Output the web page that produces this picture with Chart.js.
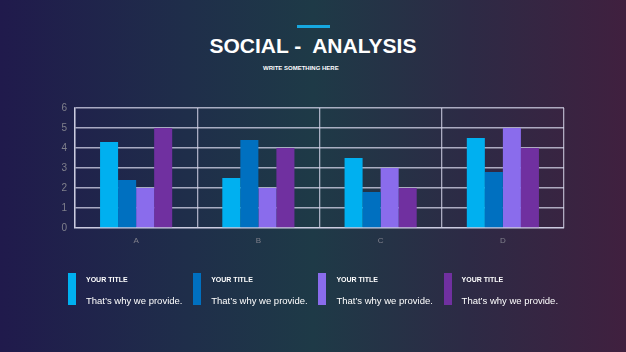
<!DOCTYPE html>
<html>
<head>
<meta charset="utf-8">
<script src="https://cdn.jsdelivr.net/npm/chart.js@4/dist/chart.umd.min.js"></script>
<style>
  html, body { margin: 0; padding: 0; }
  body {
    width: 626px; height: 352px; overflow: hidden; position: relative;
    font-family: "Liberation Sans", Arial, sans-serif;
    background: linear-gradient(90deg, #201a4c 0%, #1f2e4a 30%, #1e3a47 50%, #2d2a45 75%, #40203f 100%);
  }
  #chartWrap { position: absolute; left: 0; top: 0; width: 626px; height: 352px; }
  .accent { position: absolute; left: 297px; top: 25px; width: 33px; height: 3px; background: #16a8e0; }
  .title { position: absolute; left: 0; width: 626px; top: 34px; text-align: center; color: #fff;
    font-weight: bold; font-size: 21px; }
  .sub { position: absolute; left: 263px; top: 65px; color: #fff;
    font-weight: bold; font-size: 6px; white-space: nowrap; }
  .item { position: absolute; top: 273px; }
  .item .bar { position: absolute; left: 0; top: 0; width: 8px; height: 32px; }
  .item .t { position: absolute; left: 18px; top: 3px; color: #fff; font-weight: bold; font-size: 7px; white-space: nowrap; }
  .item .d { position: absolute; left: 18px; top: 22px; color: #fff; font-size: 9.5px; white-space: nowrap; }
</style>
</head>
<body>
<div class="accent"></div>
<div class="title">SOCIAL -&nbsp; ANALYSIS</div>
<div class="sub">WRITE SOMETHING HERE</div>
<div id="chartWrap"><canvas id="chart" width="626" height="352"></canvas></div>
<div id="legend"></div>
<script>
const categories = ["A", "B", "C", "D"];
const series1 = [4.3, 2.5, 3.5, 4.5];
const series2 = [2.4, 4.4, 1.8, 2.8];
const series3 = [2.0, 2.0, 3.0, 5.0];
const series4 = [5.0, 4.0, 2.0, 4.0];
const colors = ["#00b0f0", "#0070c0", "#8a6cec", "#7030a0"];
const legendTitles = ["YOUR TITLE", "YOUR TITLE", "YOUR TITLE", "YOUR TITLE"];
const legendTexts = ["That\u2019s why we provide.", "That\u2019s why we provide.", "That\u2019s why we provide.", "That\u2019s why we provide."];

// legend blocks under the chart
const legend = document.getElementById("legend");
legendTitles.forEach((t, i) => {
  const el = document.createElement("div");
  el.className = "item";
  el.style.left = (68 + i * 125.2) + "px";
  el.innerHTML = `<div class="bar" style="background:${colors[i]}"></div>
    <div class="t">${t}</div><div class="d">${legendTexts[i]}</div>`;
  legend.appendChild(el);
});

const gridColor = "rgba(215,215,235,0.75)";
const ctx = document.getElementById("chart").getContext("2d");
new Chart(ctx, {
  type: "bar",
  data: {
    labels: categories,
    datasets: [series1, series2, series3, series4].map((d, i) => ({
      label: "Series " + (i + 1),
      data: d,
      backgroundColor: colors[i],
      barPercentage: 1,
      categoryPercentage: 0.59
    }))
  },
  options: {
    responsive: false,
    animation: false,
    layout: { padding: { left: 0, top: 108, right: 62, bottom: 100 } },
    plugins: { legend: { display: false }, tooltip: { enabled: false } },
    scales: {
      x: {
        grid: { color: gridColor, lineWidth: 1.3, drawTicks: false, offset: true },
        border: { color: gridColor, width: 1.3 },
        ticks: { color: "#80808c", font: { family: "Liberation Sans", size: 8 }, padding: 8 },
        afterFit: s => { s.height = 24; }
      },
      y: {
        min: 0, max: 6,
        grid: { color: gridColor, lineWidth: 1.5, drawTicks: false },
        border: { color: gridColor, width: 1.5 },
        ticks: { stepSize: 1, color: "#80808c", font: { family: "Liberation Sans", size: 10 }, padding: 8 },
        afterFit: s => { s.width = 75; }
      }
    }
  }
});
</script>
</body>
</html>
